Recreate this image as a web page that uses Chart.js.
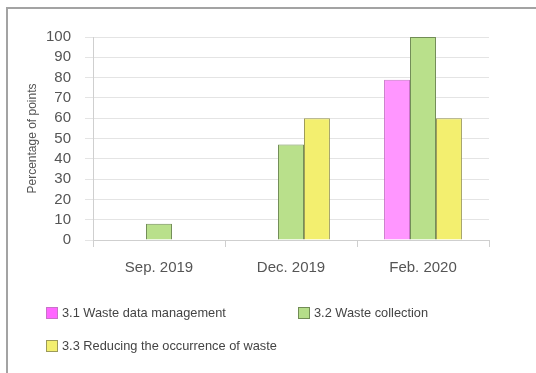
<!DOCTYPE html>
<html>
<head>
<meta charset="utf-8">
<script src="https://cdn.jsdelivr.net/npm/chart.js@4/dist/chart.umd.min.js"></script>
<style>
	html, body {
		margin: 0;
		padding: 0;
		background: #fff;
		overflow: hidden;
	}
	.wrap {
		position: relative;
		width: 536px;
		height: 373px;
		font-family: "Liberation Sans", Arial, sans-serif;
	}
	canvas {
		position: absolute;
		left: 0;
		top: 0;
	}
	.legend {
		position: absolute;
		left: 46px;
		top: 306px;
		display: grid;
		grid-template-columns: 252px auto;
		row-gap: 20px;
		font-size: 12.8px;
		color: #444;
	}
	.legend__item {
		display: flex;
		align-items: center;
		height: 13px;
	}
	.legend__box {
		width: 10px;
		height: 10px;
		border: 1px solid;
		margin-right: 4px;
	}
</style>
</head>
<body>
<div class="wrap">
	<canvas id="chart" width="536" height="373"></canvas>
	<div class="legend"></div>
</div>
<script>
const categories = ["Sep. 2019", "Dec. 2019", "Feb. 2020"];
const seriesNames = [
	"3.1 Waste data management",
	"3.2 Waste collection",
	"3.3 Reducing the occurrence of waste"
];
const wasteData = [null, null, 79];
const wasteCollection = [8, 47, 100];
const wasteReducing = [null, 60, 60];
const yTicks = [0, 10, 20, 30, 40, 50, 60, 70, 80, 90, 100];

const fills = ["#ff96ff", "#b9e08b", "#f3ef6f"];
const borders = ["#c873c8", "#718c55", "#9c9a5a"];
const legendFills = ["#ff66ff", "#b5dd89", "#f3ef6f"];

const datasets = [wasteData, wasteCollection, wasteReducing].map((values, i) => ({
	label: seriesNames[i],
	data: values,
	backgroundColor: fills[i],
	borderColor: borders[i],
	borderWidth: 1,
	borderSkipped: "bottom",
	categoryPercentage: 0.59,
	barPercentage: 1,
}));

const tickFont = {family: "'Liberation Sans', Arial, sans-serif", size: 15};

// grey frame along the top and left edge of the canvas
const framePlugin = {
	id: "frame",
	beforeDraw(chart) {
		const ctx = chart.ctx;
		ctx.save();
		ctx.strokeStyle = "#a3a3a3";
		ctx.lineWidth = 2;
		ctx.beginPath();
		ctx.moveTo(7, chart.height);
		ctx.lineTo(7, 8);
		ctx.lineTo(chart.width, 8);
		ctx.stroke();
		ctx.restore();
	}
};

const chart = new Chart(document.getElementById("chart").getContext("2d"), {
	type: "bar",
	data: {
		labels: categories,
		datasets: datasets,
	},
	plugins: [framePlugin],
	options: {
		responsive: false,
		animation: false,
		layout: {
			padding: {top: 37, right: 47, bottom: 0, left: 0}
		},
		plugins: {
			legend: {display: false},
			tooltip: {enabled: false},
		},
		scales: {
			x: {
				offset: true,
				grid: {
					offset: true,
					drawOnChartArea: false,
					color: "#cfcfcf",
					tickLength: 7,
				},
				border: {color: "#cfcfcf"},
				ticks: {
					color: "#555",
					font: tickFont,
					padding: 12,
				},
				afterFit: scale => { scale.height = 133; },
			},
			y: {
				min: 0,
				max: 100,
				afterBuildTicks: scale => {
					scale.ticks = yTicks.map(v => ({value: v}));
				},
				grid: {
					color: "#e4e4e4",
					tickLength: 8,
				},
				border: {color: "#cfcfcf"},
				ticks: {
					color: "#555",
					font: tickFont,
					padding: 14,
					autoSkip: false,
				},
				title: {
					display: true,
					text: "Percentage of points",
					color: "#555",
					font: {family: "'Liberation Sans', Arial, sans-serif", size: 12},
					padding: {top: 25, bottom: 0},
				},
				afterFit: scale => { scale.width = 93; },
			}
		}
	}
});

// html legend built from the chart's datasets
const legend = document.querySelector(".legend");
chart.data.datasets.forEach((ds, i) => {
	const item = document.createElement("div");
	item.classList.add("legend__item");
	item.innerHTML = `<span class="legend__box" style="background:${legendFills[i]};border-color:${ds.borderColor}"></span><span>${ds.label}</span>`;
	legend.append(item);
});
</script>
</body>
</html>
